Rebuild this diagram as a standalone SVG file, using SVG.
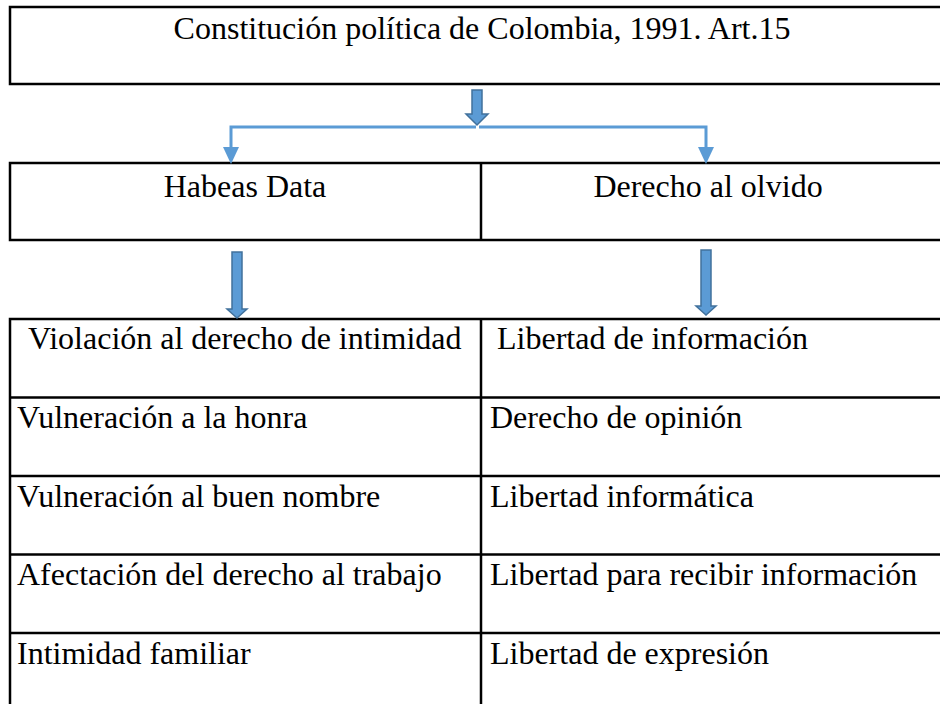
<svg xmlns="http://www.w3.org/2000/svg" width="940" height="704" viewBox="0 0 940 704">
<style>
.box{fill:#fff;stroke:#000;stroke-width:2.5}
.ln{stroke:#000;stroke-width:2.5;fill:none}
.blk{fill:#5b9bd5;stroke:#41719c;stroke-width:1.5}
.con{stroke:#5b9bd5;stroke-width:3;fill:none}
</style>
<rect width="940" height="704" fill="#fff"/>
<g font-family="'Liberation Serif', 'Times New Roman', Times, serif" font-size="32" fill="#000">
<g id="titulo">
<rect class="box" x="10" y="7" width="945" height="77"/>
<text x="482" y="39" text-anchor="middle">Constitución política de Colombia, 1991. Art.15</text>
</g>

<g id="cabecera">
<rect class="box" x="10" y="163" width="945" height="77"/>
<line class="ln" x1="481" y1="163" x2="481" y2="240"/>
</g>
<g id="habeas">
<text x="245" y="197" text-anchor="middle">Habeas Data</text>
</g>
<g id="olvido">
<text x="708" y="197" text-anchor="middle">Derecho al olvido</text>
</g>

<g id="tabla">
<rect class="box" x="10" y="319" width="945" height="400"/>
<line class="ln" x1="481" y1="319" x2="481" y2="710"/>
<line class="ln" x1="10" y1="397.5" x2="945" y2="397.5"/>
<line class="ln" x1="10" y1="476" x2="945" y2="476"/>
<line class="ln" x1="10" y1="554.5" x2="945" y2="554.5"/>
<line class="ln" x1="10" y1="633" x2="945" y2="633"/>
</g>
<g id="col-habeas">
<text x="28" y="349">Violación al derecho de intimidad</text>
<text x="17" y="428">Vulneración a la honra</text>
<text x="17" y="507">Vulneración al buen nombre</text>
<text x="17" y="585">Afectación del derecho al trabajo</text>
<text x="17" y="664">Intimidad familiar</text>
</g>
<g id="col-olvido">
<text x="497" y="349">Libertad de información</text>
<text x="490" y="428">Derecho de opinión</text>
<text x="490" y="507">Libertad informática</text>
<text x="490" y="585">Libertad para recibir información</text>
<text x="490" y="664">Libertad de expresión</text>
</g>
</g>
<g id="conectores">
<polygon class="blk" points="472,90 482,90 482,114 488,114 477,125 466,114 472,114"/>
<polyline class="con" points="476,127 231,127 231,149"/>
<polyline class="con" points="479,127 706,127 706,149"/>
<polygon fill="#5b9bd5" points="223,147 239,147 231,164"/>
<polygon fill="#5b9bd5" points="698,147 714,147 706,164"/>
<polygon class="blk" points="232,252 242,252 242,309 247,309 237,318 227,309 232,309"/>
<polygon class="blk" points="701,250 711,250 711,306 716,306 706,315 696,306 701,306"/>
</g>
</svg>
